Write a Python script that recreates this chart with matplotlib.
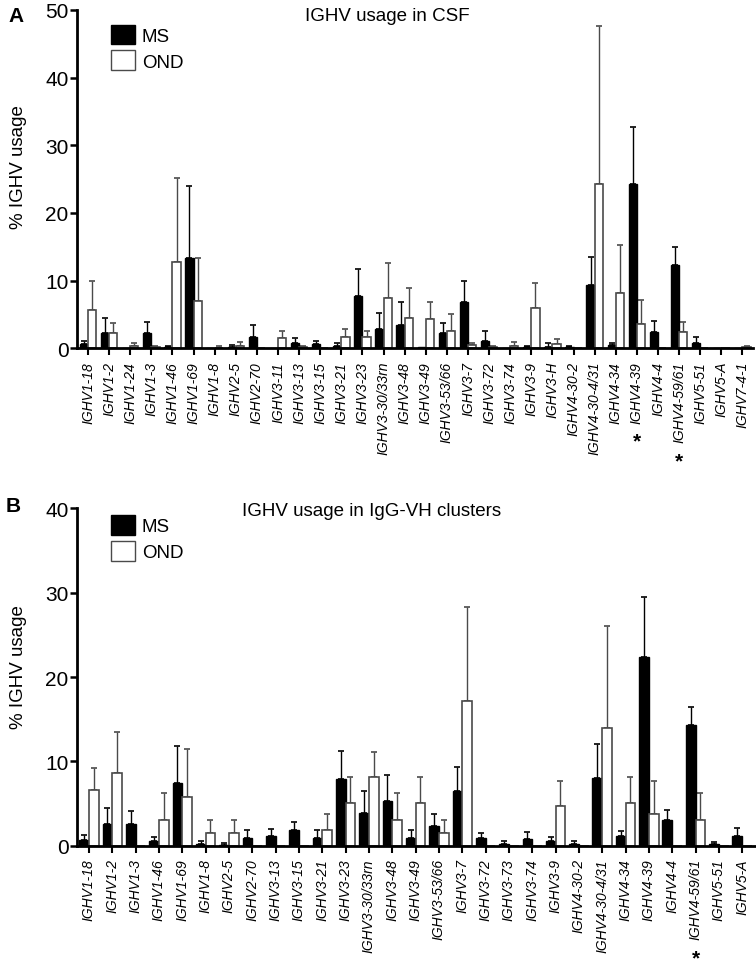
import numpy as np
import matplotlib
matplotlib.use("Agg")
import matplotlib.pyplot as plt
from matplotlib.patches import Patch

plt.rcParams['font.family'] = ['Liberation Sans', 'DejaVu Sans']

# ---- panel A: IGHV usage in CSF ----
genes_a = ['IGHV1-18', 'IGHV1-2', 'IGHV1-24', 'IGHV1-3', 'IGHV1-46', 'IGHV1-69',
           'IGHV1-8', 'IGHV2-5', 'IGHV2-70', 'IGHV3-11', 'IGHV3-13', 'IGHV3-15',
           'IGHV3-21', 'IGHV3-23', 'IGHV3-30/33rn', 'IGHV3-48', 'IGHV3-49',
           'IGHV3-53/66', 'IGHV3-7', 'IGHV3-72', 'IGHV3-74', 'IGHV3-9', 'IGHV3-H',
           'IGHV4-30-2', 'IGHV4-30-4/31', 'IGHV4-34', 'IGHV4-39', 'IGHV4-4',
           'IGHV4-59/61', 'IGHV5-51', 'IGHV5-A', 'IGHV7-4-1']
ms_a = [0.65, 2.3, 0, 2.3, 0.15, 13.4, 0.1, 0.15, 1.6, 0.1, 0.75, 0.65, 0.4, 7.8,
        2.8, 3.5, 0.15, 2.3, 6.8, 1.15, 0.1, 0.15, 0.25, 0.2, 9.3, 0.5, 24.3, 2.4,
        12.3, 0.8, 0, 0]
ms_a_sem = [0.45, 2.2, 0, 1.6, 0.25, 10.6, 0, 0.35, 1.9, 0, 0.75, 0.45, 0.4, 3.9,
            2.4, 3.3, 0, 1.5, 3.1, 1.35, 0, 0.25, 0.5, 0.1, 4.2, 0.35, 8.4, 1.7,
            2.6, 0.9, 0, 0]
ond_a = [5.7, 2.2, 0.4, 0.15, 12.7, 7.0, 0.1, 0.4, 0, 1.5, 0.15, 0, 1.6, 1.6, 7.5,
         4.5, 4.3, 2.5, 0.5, 0.15, 0.4, 6.0, 0.65, 0, 24.3, 8.2, 3.6, 0, 2.4, 0, 0,
         0.2]
ond_a_sem = [4.2, 1.5, 0.45, 0.25, 12.5, 6.4, 0.25, 0.5, 0, 1.1, 0.25, 0, 1.3, 1.0,
             5.1, 4.4, 2.5, 2.6, 0.35, 0.2, 0.5, 3.7, 0.7, 0, 23.3, 7.1, 3.6, 0,
             1.5, 0, 0, 0.2]
stars_a = ['IGHV4-39', 'IGHV4-59/61']

# ---- panel B: IGHV usage in IgG-VH clusters ----
genes_b = ['IGHV1-18', 'IGHV1-2', 'IGHV1-3', 'IGHV1-46', 'IGHV1-69', 'IGHV1-8',
           'IGHV2-5', 'IGHV2-70', 'IGHV3-13', 'IGHV3-15', 'IGHV3-21', 'IGHV3-23',
           'IGHV3-30/33rn', 'IGHV3-48', 'IGHV3-49', 'IGHV3-53/66', 'IGHV3-7',
           'IGHV3-72', 'IGHV3-73', 'IGHV3-74', 'IGHV3-9', 'IGHV4-30-2',
           'IGHV4-30-4/31', 'IGHV4-34', 'IGHV4-39', 'IGHV4-4', 'IGHV4-59/61',
           'IGHV5-51', 'IGHV5-A']
ms_b = [0.7, 2.6, 2.6, 0.5, 7.4, 0.25, 0.1, 0.9, 1.1, 1.9, 0.9, 7.9, 3.9, 5.3, 0.9,
        2.3, 6.5, 0.9, 0.2, 0.75, 0.5, 0.2, 8.0, 1.1, 22.4, 3.0, 14.3, 0.15, 1.15]
ms_b_sem = [0.6, 1.9, 1.5, 0.5, 4.4, 0.25, 0.2, 1.0, 0.9, 0.9, 1.0, 3.3, 2.6, 3.1,
            1.0, 1.4, 2.8, 0.6, 0.3, 0.85, 0.5, 0.3, 4.0, 0.6, 7.1, 1.2, 2.2, 0.3,
            0.95]
ond_b = [6.6, 8.6, 0, 3.1, 5.8, 1.5, 1.5, 0, 0, 0, 1.9, 5.1, 8.2, 3.1, 5.1, 1.5, 17.1,
         0, 0, 0, 4.7, 0, 14.0, 5.1, 3.8, 0, 3.1, 0, 0]
ond_b_sem = [2.6, 4.9, 0, 3.2, 5.7, 1.6, 1.6, 0, 0, 0, 1.9, 3.0, 2.9, 3.2, 3.0, 1.6,
             11.2, 0, 0, 0, 3.0, 0, 12.1, 3.0, 3.9, 0, 3.2, 0, 0]
stars_b = ['IGHV4-59/61']

W, H = 756, 970
fig = plt.figure(figsize=(W / 100, H / 100), dpi=100)
ax_a = fig.add_axes([77 / W, 1 - 349.3 / H, 676 / W, 338.3 / H])
ax_b = fig.add_axes([77 / W, 1 - 846.7 / H, 678 / W, 337.4 / H])

GREY = '#4a4a4a'


def draw_panel(ax, genes, ms, ms_sem, ond, ond_sem, ymax, xlim, width, title, title_x, title_y, legend_xy):
    x = np.arange(len(genes))
    ms = np.array(ms)
    ond = np.array(ond)
    ax.bar(x - width / 2, ms, width, color='black', edgecolor='black', linewidth=1.0, zorder=2)
    ax.bar(x + width / 2, ond, width, color='white', edgecolor=GREY, linewidth=1.2, zorder=2)
    m = np.array(ms_sem) > 0
    ax.errorbar((x - width / 2)[m], ms[m], yerr=[np.zeros(m.sum()), np.array(ms_sem)[m]],
                fmt='none', ecolor='black', elinewidth=1.0, capsize=2, capthick=1.2, zorder=1)
    m = np.array(ond_sem) > 0
    ax.errorbar((x + width / 2)[m], ond[m], yerr=[np.zeros(m.sum()), np.array(ond_sem)[m]],
                fmt='none', ecolor=GREY, elinewidth=1.0, capsize=2, capthick=1.2, zorder=1)

    ax.set_xlim(*xlim)
    ax.set_ylim(0, ymax)
    ax.set_yticks(np.arange(0, ymax + 1, 10))
    ax.set_xticks(x)
    ax.set_xticklabels(genes, rotation=90, fontsize=10, style='italic')
    ax.tick_params(axis='y', labelsize=15, length=5, width=1.8, pad=1, direction='out')
    ax.tick_params(axis='x', length=5, width=1.5, pad=4, direction='out')
    for s in ['top', 'right']:
        ax.spines[s].set_visible(False)
    for s in ['left', 'bottom']:
        ax.spines[s].set_linewidth(2)
    ax.set_ylabel('% IGHV usage', fontsize=13.5)
    ax.text(title_x, title_y, title, transform=ax.transAxes, ha='center', va='baseline', fontsize=13.5)
    ax.legend(handles=[Patch(facecolor='black', edgecolor='black'),
                       Patch(facecolor='white', edgecolor=GREY)],
              labels=['MS', 'OND'], loc='upper left', bbox_to_anchor=legend_xy,
              frameon=False, fontsize=13.5, handlelength=1.3, handleheight=1.25,
              handletextpad=0.35, labelspacing=0.3, borderpad=0, borderaxespad=0)


draw_panel(ax_a, genes_a, ms_a, ms_a_sem, ond_a, ond_a_sem, 50, (-0.52, 31.5), 0.39,
           'IGHV usage in CSF', 0.459, 0.97, (0.05, 0.957))
draw_panel(ax_b, genes_b, ms_b, ms_b_sem, ond_b, ond_b_sem, 40, (-0.51, 28.55), 0.415,
           'IGHV usage in IgG-VH clusters', 0.435, 0.98, (0.05, 0.98))
ax_a.yaxis.set_label_coords(-0.074, 0.539)
ax_b.yaxis.set_label_coords(-0.074, 0.533)

fig.text(8 / W, 1 - 22 / H, 'A', fontsize=15, fontweight='bold')
fig.text(6 / W, 1 - 512 / H, 'B', fontsize=15, fontweight='bold')

# significance stars under the rotated gene labels
fig.canvas.draw()
for ax, starred in [(ax_a, stars_a), (ax_b, stars_b)]:
    for lab in ax.get_xticklabels():
        if lab.get_text() in starred:
            bb = lab.get_window_extent()
            fig.text((bb.x0 + bb.x1) / 2 / W, (bb.y0 - 9) / H, '*', ha='center', va='top',
                     fontsize=15, fontweight='bold')

fig.savefig('out.png', dpi=100)
